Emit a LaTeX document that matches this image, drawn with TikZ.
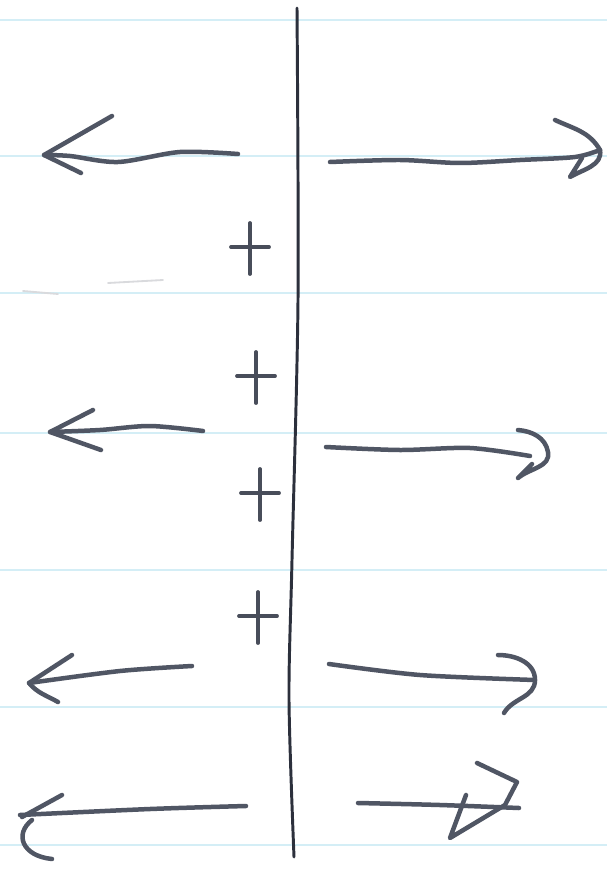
\documentclass[tikz,border=0pt]{standalone}
\usepackage{xcolor}
\definecolor{ink}{RGB}{80,86,100}
\definecolor{inkdark}{RGB}{44,48,60}
\definecolor{ruling}{RGB}{212,238,246}
\usetikzlibrary{calc}

\begin{document}
\begin{tikzpicture}[
        x=0.05cm, y=-0.05cm,
        % Estilos del boceto
        ruleline/.style={draw=ruling, line width=2.6pt},
        axisline/.style={draw=inkdark, line width=4.2pt, line cap=round, line join=round},
        pen/.style={draw=ink, line width=6.4pt, line cap=round, line join=round},
        faint/.style={draw=ink!22, line width=2.6pt, line cap=round},
        plusmark/.style={draw=ink!90!black, line width=5.4pt, line cap=round}
    ]

    \useasboundingbox[fill=white] (0,0) rectangle (607,875);

    % Rayado del papel
    \foreach \y in {20,156,293,433,570,707,845}
        \draw[ruleline] (0,\y) -- (607,\y);

    % Linea central
    \coordinate (top) at (297,8);
    \coordinate (bottom) at (294,857);
    \draw[axisline] plot[smooth] coordinates {(top) (298,300) (292,560) (289,700) (bottom)};

    % Extremos de las flechas
    \coordinate (tailL1) at (238,154);  \coordinate (tipL1) at (44,155);
    \coordinate (tailR1) at (330,162);  \coordinate (tipR1) at (600,150);
    \coordinate (tailL2) at (203,431);  \coordinate (tipL2) at (50,432);
    \coordinate (tailR2) at (326,447);  \coordinate (tipR2) at (548,452);
    \coordinate (tailL3) at (192,666);  \coordinate (tipL3) at (29,683);
    \coordinate (tailR3) at (329,664);  \coordinate (tipR3) at (535,680);
    \coordinate (tailL4) at (246,806);  \coordinate (tipL4) at (20,815);
    \coordinate (tailR4) at (358,803);  \coordinate (tipR4) at (519,808);

    % Flechas izquierdas
    \draw[pen] plot[smooth] coordinates {(tailL1) (180,152) (118,162) (70,156) (tipL1)};
    \draw[pen] (112,116) -- (tipL1) -- (81,173);

    \draw[pen] plot[smooth] coordinates {(tailL2) (150,426) (100,430) (tipL2)};
    \draw[pen] (93,410) -- (tipL2) -- (101,450);

    \draw[pen] plot[smooth] coordinates {(tailL3) (120,671) (tipL3)};
    \draw[pen] (72,655) -- (tipL3) to[out=-50,in=150] (58,702);

    \draw[pen] plot[smooth] coordinates {(tailL4) (150,809) (tipL4)};
    \draw[pen] (62,795) -- (22,817);
    \draw[pen] (32,820) .. controls (14,834) and (22,856) .. (52,859);

    % Flechas derechas
    \draw[pen] plot[smooth] coordinates {(tailR1) (400,160) (460,163) (520,160) (575,157) (tipR1)};
    \draw[pen] (555,120) to[out=-25,in=120] (tipR1) to[out=-80,in=30] (570,177) -- (582,158);

    \draw[pen] plot[smooth] coordinates {(tailR2) (400,450) (470,448) (530,456)};
    \draw[pen] (518,430) to[out=-5,in=100] (tipR2) to[out=-80,in=40] (518,478) -- (532,464);

    \draw[pen] plot[smooth] coordinates {(tailR3) (420,675) (tipR3)};
    \draw[pen] (498,655) to[out=0,in=90] (tipR3) to[out=-90,in=60] (504,713);

    \draw[pen] plot[smooth] coordinates {(tailR4) (440,805) (tipR4)};
    \draw[pen] (477,763) -- (517,782) -- (505,805) -- (450,838) -- (466,795);

    % Signos mas
    \foreach \cx/\cy in {250/247, 256/376, 260/493, 258/616}
        \draw[plusmark] (\cx-19,\cy) -- (\cx+19,\cy) (\cx,\cy-24) -- (\cx,\cy+27);

    % Trazo borrado
    \draw[faint] (23,291) -- (58,294);
    \draw[faint] (108,283) -- (163,280);

\end{tikzpicture}
\end{document}
